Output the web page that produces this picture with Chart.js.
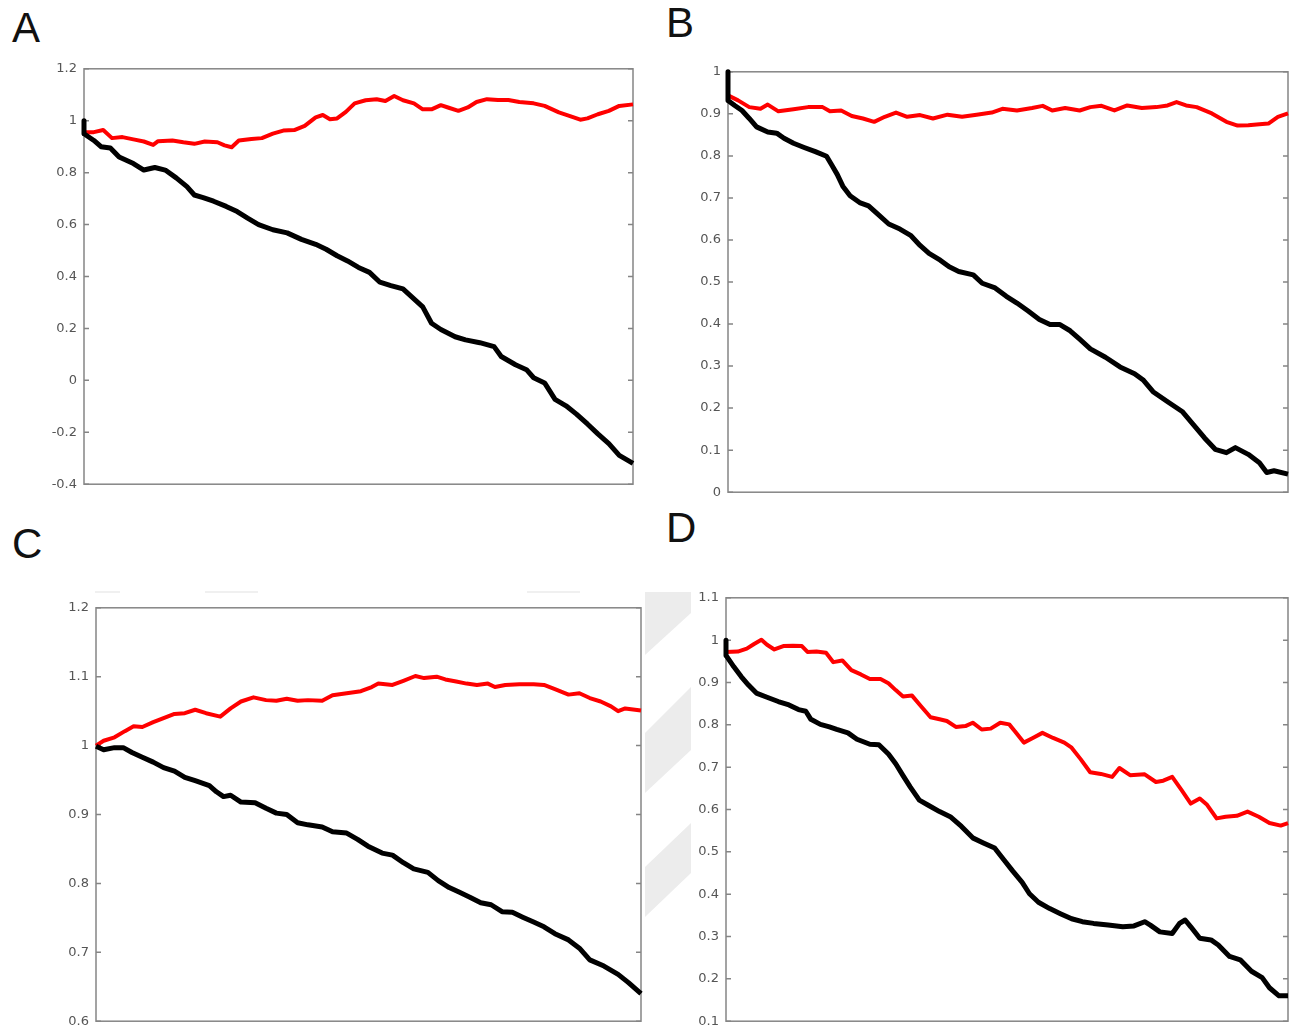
<!DOCTYPE html>
<html>
<head>
<meta charset="utf-8">
<script src="https://cdn.jsdelivr.net/npm/chart.js@4.4.1/dist/chart.umd.min.js"></script>
<style>
body{margin:0;background:#fff;width:1299px;height:1036px;position:relative;overflow:hidden;}
canvas{position:absolute;}
.letra{position:absolute;font-family:"Liberation Sans",Arial,sans-serif;font-size:42px;line-height:42px;color:#111;}
.sombra{position:absolute;background:#ececec;}
</style>
</head>
<body>

<div class="letra" style="left:12px;top:7px;">A</div>
<div class="letra" style="left:666px;top:2px;">B</div>
<div class="letra" style="left:12px;top:523px;">C</div>
<div class="letra" style="left:666px;top:507px;">D</div>

<!-- restos grises de la figura original -->
<div class="sombra" style="left:645px;top:590px;width:46px;height:330px;clip-path:polygon(0 2px,46px 2px,46px 23px,0 65px);"></div>
<div class="sombra" style="left:645px;top:590px;width:46px;height:330px;clip-path:polygon(46px 97px,46px 160px,0 203px,0 143px);"></div>
<div class="sombra" style="left:645px;top:590px;width:46px;height:330px;clip-path:polygon(46px 233px,46px 283px,0 327px,0 277px);"></div>
<div class="sombra" style="left:95px;top:591px;width:25px;height:2px;background:#f0f0f0;"></div>
<div class="sombra" style="left:205px;top:591px;width:53px;height:2px;background:#f0f0f0;"></div>
<div class="sombra" style="left:527px;top:591px;width:53px;height:2px;background:#f0f0f0;"></div>

<canvas id="panelA"></canvas>
<canvas id="panelB"></canvas>
<canvas id="panelC"></canvas>
<canvas id="panelD"></canvas>

<script>
// DATOS PANEL A
const xNegroA = [0,0,1.8,3.1,4.8,6.4,9.0,10.9,12.9,14.8,16.8,18.75,20.1,21.7,23.6,25.9,27.9,29.8,31.8,34.4,37.0,39.6,42.2,44.1,46.1,48.0,50.0,52.0,53.9,55.9,58.1,59.8,61.7,63.3,65.0,67.6,69.5,72.1,74.7,76.0,78.6,80.6,81.9,83.9,85.8,87.8,89.7,91.7,93.6,95.6,97.5,100];
const yNegroA = [1.0,0.95,0.924,0.90,0.895,0.86,0.835,0.81,0.82,0.81,0.78,0.746,0.714,0.704,0.69,0.67,0.65,0.625,0.60,0.58,0.568,0.543,0.524,0.505,0.48,0.46,0.435,0.416,0.378,0.365,0.352,0.32,0.283,0.22,0.196,0.168,0.156,0.145,0.13,0.092,0.06,0.041,0.01,-0.01,-0.073,-0.098,-0.13,-0.168,-0.206,-0.244,-0.289,-0.32];
const xRojoA = [0,1.8,3.5,5.1,7.0,9.0,10.9,12.6,13.5,16.1,18.1,20.1,22.0,24.3,25.6,26.9,28.2,30.5,32.4,34.4,36.3,38.3,40.2,42.2,43.5,44.8,46.1,47.7,49.3,51.3,53.3,54.9,56.5,58.1,60.1,61.7,63.3,65.0,66.3,68.2,69.9,71.5,73.4,75.4,77.3,79.3,81.9,83.9,86.5,88.4,90.4,91.7,93.6,95.6,97.5,100];
const yRojoA = [0.956,0.956,0.964,0.933,0.937,0.928,0.92,0.907,0.921,0.924,0.917,0.911,0.92,0.917,0.905,0.898,0.924,0.93,0.933,0.95,0.962,0.964,0.98,1.013,1.022,1.006,1.009,1.034,1.067,1.079,1.083,1.076,1.095,1.079,1.067,1.044,1.044,1.06,1.051,1.038,1.051,1.072,1.083,1.08,1.08,1.072,1.067,1.057,1.032,1.019,1.004,1.009,1.025,1.038,1.057,1.063];
const ticksA = [-0.4,-0.2,0,0.2,0.4,0.6,0.8,1,1.2];
const etiquetasA = ['-0.4','-0.2','0','0.2','0.4','0.6','0.8','1','1.2'];

// DATOS PANEL B
const xNegroB = [0,0,1.2,2.5,3.8,5.1,7.1,8.7,10.0,11.7,13.6,15.6,17.6,18.5,19.5,20.5,21.8,23.5,25.1,26.7,28.7,30.7,32.6,34.3,35.9,37.9,39.5,41.2,43.8,45.4,47.7,49.7,51.6,53.6,55.6,57.5,59.2,61.1,62.8,64.7,67.4,70.0,72.6,74.2,75.9,78.5,81.1,83.1,85.1,87.0,89.0,90.6,92.9,94.9,96.2,97.5,100];
const yNegroB = [1.0,0.932,0.92,0.908,0.889,0.869,0.857,0.854,0.842,0.83,0.82,0.81,0.799,0.779,0.756,0.728,0.705,0.689,0.681,0.662,0.638,0.626,0.611,0.587,0.568,0.552,0.536,0.525,0.517,0.497,0.486,0.466,0.45,0.431,0.411,0.399,0.399,0.384,0.364,0.341,0.321,0.298,0.282,0.266,0.239,0.215,0.192,0.161,0.129,0.102,0.094,0.106,0.09,0.07,0.047,0.051,0.043];
const xRojoB = [0,1.8,3.8,5.8,7.1,9.0,11.7,14.3,16.9,18.2,20.2,22.1,24.1,26.1,28.0,30.0,32.0,34.3,36.6,39.2,41.8,44.4,47.1,49.0,51.6,54.3,56.2,57.9,60.2,62.8,64.7,66.7,69.0,71.3,73.9,76.5,78.5,80.1,81.8,83.7,86.4,89.0,91.0,92.9,94.9,96.5,98.2,100];
const yRojoB = [0.944,0.932,0.916,0.912,0.922,0.906,0.911,0.916,0.916,0.906,0.908,0.895,0.889,0.881,0.893,0.903,0.893,0.897,0.889,0.898,0.893,0.898,0.903,0.912,0.908,0.914,0.919,0.908,0.914,0.908,0.916,0.919,0.908,0.92,0.914,0.916,0.92,0.928,0.92,0.916,0.901,0.881,0.872,0.873,0.875,0.877,0.893,0.901];
const ticksB = [0,0.1,0.2,0.3,0.4,0.5,0.6,0.7,0.8,0.9,1];
const etiquetasB = ['0','0.1','0.2','0.3','0.4','0.5','0.6','0.7','0.8','0.9','1'];

// DATOS PANEL C
const xNegroC = [0,1.4,3.4,5.0,6.6,8.5,10.5,12.4,14.4,16.3,18.2,20.8,22.1,23.4,24.7,26.6,29.2,31.2,33.1,35.0,37.0,38.9,41.5,43.4,46.0,48.0,49.9,52.5,54.4,56.4,58.3,60.9,62.8,64.8,66.7,68.6,70.6,72.5,74.5,76.4,78.3,80.3,82.2,84.2,86.7,88.7,90.6,93.2,95.8,97.7,100];
const yNegroC = [0.999,0.994,0.997,0.997,0.99,0.983,0.976,0.968,0.963,0.954,0.949,0.942,0.933,0.926,0.928,0.918,0.917,0.909,0.902,0.9,0.888,0.885,0.882,0.875,0.873,0.864,0.854,0.844,0.841,0.83,0.821,0.816,0.804,0.794,0.787,0.78,0.772,0.769,0.759,0.758,0.751,0.744,0.737,0.727,0.718,0.706,0.689,0.68,0.668,0.656,0.64];
const xRojoC = [0,1.4,3.4,5.3,6.9,8.5,10.5,12.4,14.4,16.3,18.2,20.2,22.8,24.7,26.6,28.9,31.2,33.1,35.0,37.0,38.9,41.5,43.4,46.0,48.6,50.6,51.8,54.4,56.4,58.6,60.2,62.5,64.1,66.1,68.0,69.9,71.9,73.2,75.1,77.7,80.3,82.2,84.2,86.7,88.7,90.6,92.6,94.5,95.8,97.1,100];
const yRojoC = [1.0,1.007,1.012,1.021,1.028,1.027,1.034,1.04,1.046,1.047,1.052,1.047,1.042,1.054,1.064,1.07,1.066,1.065,1.068,1.065,1.066,1.065,1.073,1.076,1.079,1.085,1.09,1.088,1.094,1.101,1.098,1.1,1.096,1.093,1.09,1.088,1.09,1.085,1.088,1.089,1.089,1.088,1.082,1.074,1.076,1.069,1.064,1.057,1.05,1.054,1.051];
const ticksC = [0.6,0.7,0.8,0.9,1,1.1,1.2];
const etiquetasC = ['0.6','0.7','0.8','0.9','1','1.1','1.2'];

// DATOS PANEL D
const xNegroD = [0,0,1.4,2.7,4.0,5.4,7.3,9.3,11.2,12.9,14.2,15.1,16.8,18.4,19.7,21.7,23.3,25.6,27.2,28.9,30.2,31.5,32.8,34.4,36.0,38.0,39.9,41.9,43.9,45.8,47.8,49.4,51.0,52.7,54.0,55.6,57.6,59.5,61.5,63.4,65.4,68.0,70.6,72.6,74.5,75.5,77.2,79.4,80.7,81.7,82.7,84.3,86.3,87.6,89.6,91.5,93.5,95.4,96.7,98.4,100];
const yNegroD = [1.0,0.964,0.937,0.914,0.894,0.875,0.865,0.855,0.847,0.836,0.832,0.813,0.801,0.795,0.789,0.781,0.766,0.754,0.753,0.731,0.708,0.68,0.653,0.622,0.61,0.595,0.583,0.56,0.533,0.521,0.509,0.482,0.455,0.428,0.401,0.381,0.366,0.354,0.342,0.335,0.331,0.327,0.323,0.325,0.335,0.327,0.311,0.307,0.331,0.339,0.323,0.296,0.292,0.28,0.253,0.245,0.218,0.203,0.179,0.16,0.16];
const xRojoD = [0,2.1,3.7,5.0,6.3,7.3,8.6,10.2,11.9,13.5,14.5,16.1,17.8,19.1,20.7,22.3,24.0,25.6,27.5,28.9,30.2,31.5,33.1,34.7,36.4,38.0,39.3,40.9,42.6,43.9,45.5,47.1,48.8,50.4,51.4,53.0,54.6,56.3,58.2,60.2,61.5,63.1,64.8,66.7,68.7,70.0,71.9,74.5,76.5,77.8,79.4,81.1,82.7,84.3,85.6,87.3,88.9,90.9,92.8,94.8,96.7,98.7,100];
const yRojoD = [0.972,0.973,0.98,0.991,1.001,0.989,0.978,0.986,0.987,0.986,0.972,0.973,0.97,0.948,0.952,0.929,0.919,0.908,0.908,0.898,0.882,0.867,0.869,0.844,0.818,0.813,0.809,0.795,0.797,0.805,0.789,0.791,0.805,0.801,0.785,0.758,0.769,0.781,0.769,0.758,0.746,0.719,0.688,0.684,0.677,0.698,0.681,0.683,0.665,0.668,0.677,0.645,0.614,0.626,0.611,0.579,0.583,0.585,0.595,0.583,0.568,0.562,0.568];
const ticksD = [0.1,0.2,0.3,0.4,0.5,0.6,0.7,0.8,0.9,1,1.1];
const etiquetasD = ['0.1','0.2','0.3','0.4','0.5','0.6','0.7','0.8','0.9','1','1.1'];

// UNIR X E Y EN PUNTOS
function puntos(xs, ys){
    let n = Math.min(xs.length, ys.length);
    let out = [];
    for(let i = 0; i < n; i++){
        out.push({x: xs[i], y: ys[i]});
    }
    return out;
}

// MARCO TIPO MATLAB (caja + ticks hacia adentro)
const marco = {
    id: 'marco',
    beforeDatasetsDraw(chart){
        let ctx = chart.ctx;
        let a = chart.chartArea;
        let y = chart.scales.y;
        ctx.save();
        ctx.strokeStyle = '#858585';
        ctx.lineWidth = 1.5;
        ctx.strokeRect(a.left, a.top, a.right - a.left, a.bottom - a.top);
        ctx.beginPath();
        y.ticks.forEach(t => {
            let py = y.getPixelForValue(t.value);
            ctx.moveTo(a.left, py);
            ctx.lineTo(a.left + 5, py);
            ctx.moveTo(a.right, py);
            ctx.lineTo(a.right - 5, py);
        });
        ctx.stroke();
        ctx.restore();
    }
};

// CREAR PANEL
function crearPanel(id, caja, negro, rojo, ticks, etiquetas){

    let canvas = document.getElementById(id);
    canvas.width = caja.der - caja.izq + 62;
    canvas.height = caja.abj - caja.arr + 24;
    canvas.style.left = (caja.izq - 50) + 'px';
    canvas.style.top = (caja.arr - 12) + 'px';

    return new Chart(canvas, {
        type: 'line',
        data: {
            datasets: [
                {
                    data: negro,
                    borderColor: '#000000',
                    borderWidth: 5,
                    pointRadius: 0,
                    tension: 0,
                    borderJoinStyle: 'round',
                    clip: 6
                },
                {
                    data: rojo,
                    borderColor: '#ff0000',
                    borderWidth: 4,
                    pointRadius: 0,
                    tension: 0,
                    borderJoinStyle: 'round',
                    clip: 6
                }
            ]
        },
        options: {
            responsive: false,
            animation: false,
            devicePixelRatio: 1,
            layout: { padding: { top: 12, bottom: 12, left: 0, right: 12 } },
            plugins: {
                legend: { display: false },
                tooltip: { enabled: false }
            },
            scales: {
                x: { type: 'linear', min: 0, max: 100, display: false },
                y: {
                    type: 'linear',
                    min: ticks[0],
                    max: ticks[ticks.length - 1],
                    afterFit: s => { s.width = 50; },
                    afterBuildTicks: s => { s.ticks = ticks.map(v => ({ value: v })); },
                    grid: { display: false, drawTicks: false },
                    border: { display: false },
                    ticks: {
                        autoSkip: false,
                        padding: 7,
                        color: '#555555',
                        font: { family: 'DejaVu Sans', size: 13 },
                        callback: (v, i) => etiquetas[i]
                    }
                }
            }
        },
        plugins: [marco]
    });
}

crearPanel('panelA', {izq: 84, arr: 66, der: 633, abj: 487}, puntos(xNegroA, yNegroA), puntos(xRojoA, yRojoA), ticksA, etiquetasA);
crearPanel('panelB', {izq: 728, arr: 69, der: 1288, abj: 495}, puntos(xNegroB, yNegroB), puntos(xRojoB, yRojoB), ticksB, etiquetasB);
crearPanel('panelC', {izq: 96, arr: 605, der: 641, abj: 1024}, puntos(xNegroC, yNegroC), puntos(xRojoC, yRojoC), ticksC, etiquetasC);
crearPanel('panelD', {izq: 726, arr: 595, der: 1288, abj: 1024}, puntos(xNegroD, yNegroD), puntos(xRojoD, yRojoD), ticksD, etiquetasD);
</script>
</body>
</html>
